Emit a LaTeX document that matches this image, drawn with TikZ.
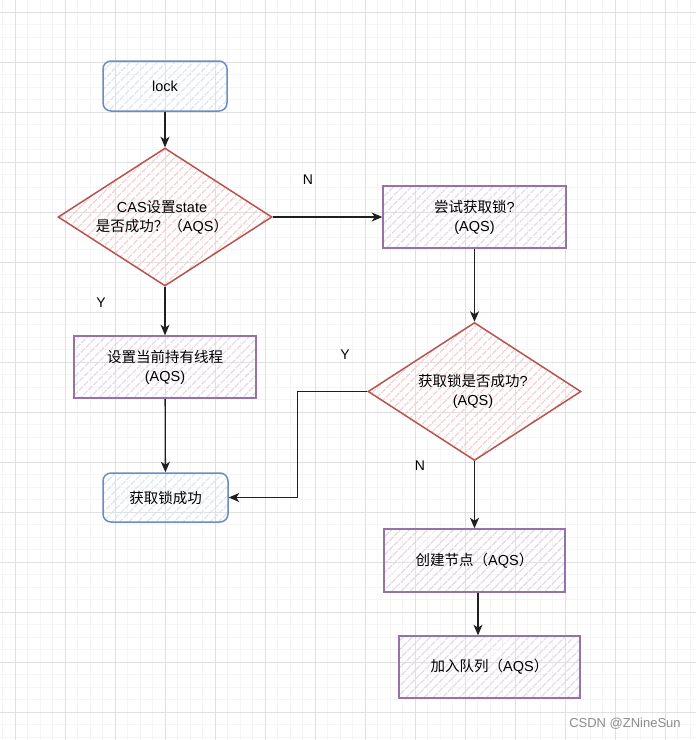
\documentclass[tikz,border=0pt]{standalone}
\usepackage{fontspec}
\setmainfont{Liberation Sans}
\newfontfamily\cjk{Noto Sans CJK SC}
\usetikzlibrary{patterns.meta,arrows.meta,shapes.geometric}
\definecolor{blueB}{HTML}{6C8EBF}
\definecolor{blueF}{HTML}{D4E3F8}
\definecolor{redB}{HTML}{B85450}
\definecolor{redF}{HTML}{F8CECC}
\definecolor{purB}{HTML}{9673A6}
\definecolor{purF}{HTML}{E1D5E7}
\definecolor{gridMinor}{HTML}{F5F5F5}
\definecolor{gridMajor}{HTML}{E0E0E0}
\definecolor{wm}{HTML}{8C8C8C}
\tikzset{
  minorline/.style={draw=gridMinor, line width=0.8pt},
  majorline/.style={draw=gridMajor, line width=0.9pt},
  txt/.style={font=\fontsize{14.5}{19}\selectfont, align=center},
  hatch/.style={pattern={Lines[angle=45,distance=6.5pt,line width=1.3pt]}},
  bluebox/.style={txt, draw=blueB, line width=1.5pt, rounded corners=8pt, hatch, pattern color=blueF, inner sep=0pt},
  purbox/.style={txt, draw=purB, line width=1.5pt, hatch, pattern color=purF, inner sep=0pt},
  diam/.style={diamond, draw=redB, line width=1.5pt, hatch, pattern color=redF, inner sep=0pt, minimum width=214pt, minimum height=138pt},
  conn/.style={-{Stealth[length=10.5pt,width=9pt,inset=3pt]}, line width=1.3pt, draw=black!88},
  yn/.style={font=\fontsize{14}{16}\selectfont}
}
\begin{document}
\begin{tikzpicture}[x=1pt,y=-1pt]
\useasboundingbox (0,0) rectangle (696,740);
\fill[white] (0,0) rectangle (696,740);
% grid
\foreach \i in {0,...,55} {\draw[minorline] (2.5+12.5*\i,0) -- (2.5+12.5*\i,740);}
\foreach \i in {0,...,59} {\draw[minorline] (0,-0.5+12.5*\i) -- (696,-0.5+12.5*\i);}
\foreach \i in {0,...,13} {\draw[majorline] (15+50*\i,0) -- (15+50*\i,740);}
\foreach \i in {0,...,14} {\draw[majorline] (0,12+50*\i) -- (696,12+50*\i);}

% nodes
\node[bluebox, minimum width=124pt, minimum height=50pt] (lock) at (165,86) {lock};
\node[diam] (d1) at (165,217) {};
\node[txt] (d1t) at (162,217) {CAS{\cjk 设置}state\\{\cjk 是否成功？（}AQS{\cjk ）}};
\node[purbox, minimum width=183pt, minimum height=62pt] (b2) at (474.5,217) {{\cjk 尝试获取锁}?\\(AQS)};
\node[diam, minimum width=213pt] (d2) at (474.5,391.5) {};
\node[txt] (d2t) at (473,391.5) {{\cjk 获取锁是否成功}?\\(AQS)};
\node[purbox, minimum width=182pt, minimum height=62pt] (b3) at (165,367) {{\cjk 设置当前持有线程}\\(AQS)};
\node[bluebox, minimum width=125pt, minimum height=49pt] (b4) at (165.5,497.5) {{\cjk 获取锁成功}};
\node[purbox, minimum width=181pt, minimum height=63pt] (b5) at (474.5,560.5) {{\cjk 创建节点（}AQS{\cjk ）}};
\node[purbox, minimum width=181pt, minimum height=62pt] (b6) at (489.5,667) {{\cjk 加入队列（}AQS{\cjk ）}};

% connectors
\draw[conn] (lock) -- (d1);
\draw[conn] (d1.east) -- (b2.west);
\draw[conn] (d1.south) -- (b3.north);
\draw[conn] (b3) -- (b4);
\draw[conn] (b2) -- (d2.north);
\draw[conn] (d2.south) -- (b5.north);
\draw[conn] (d2.west) -- ++(-70,0) |- (b4.east);
\draw[conn] ([xshift=3.5pt]b5.south) -- ([xshift=3.5pt]b5.south |- b6.north);

% labels
\node[yn] (lN1) at (308,180) {N};
\node[yn] (lY1) at (101,303) {Y};
\node[yn] (lY2) at (345,355) {Y};
\node[yn] (lN2) at (420,466) {N};

\node[text=wm, font=\fontsize{13}{15}\selectfont] (wmk) at (625,724) {CSDN @ZNineSun};
\end{tikzpicture}
\end{document}
